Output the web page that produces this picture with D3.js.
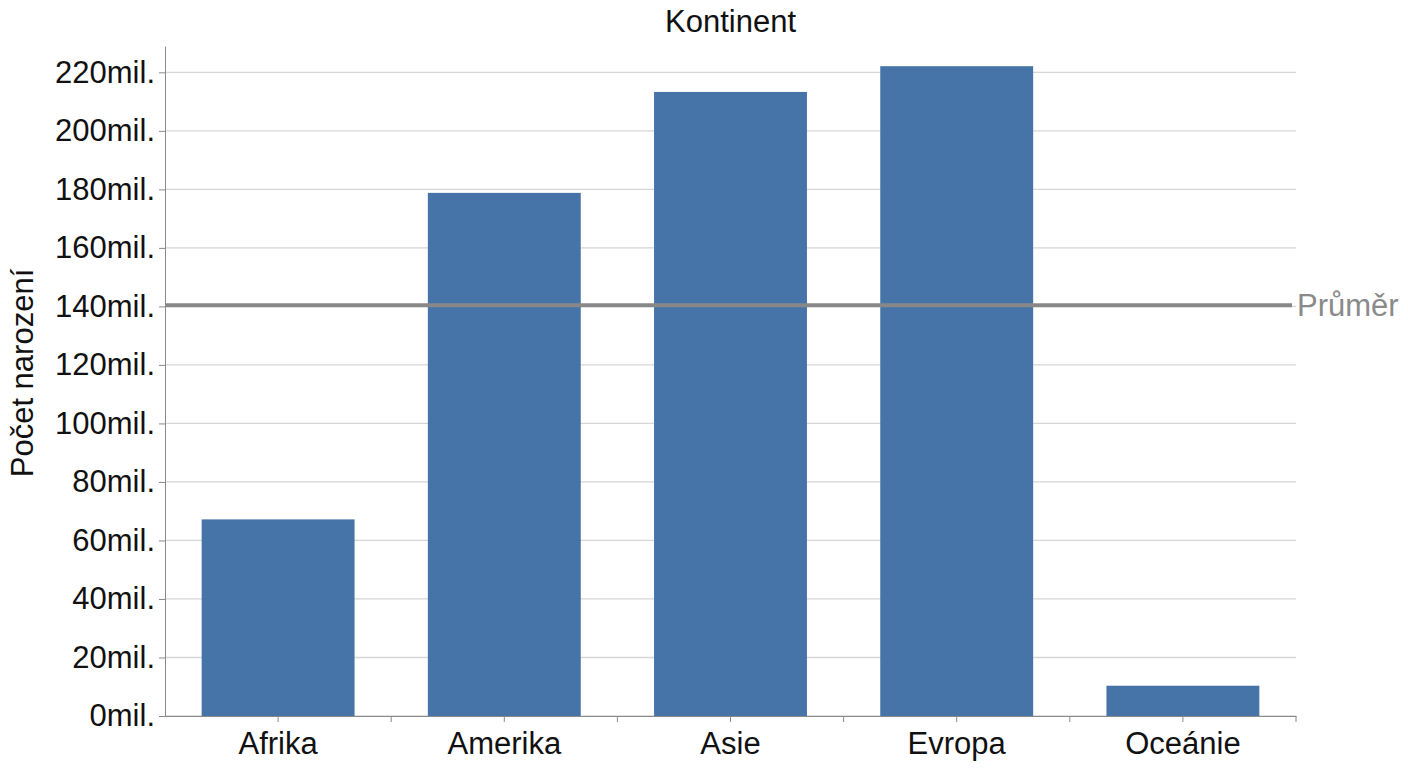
<!DOCTYPE html>
<html><head><meta charset="utf-8">
<script src="https://cdn.jsdelivr.net/npm/d3@7"></script>
<style>
body{margin:0;background:#fff;}
text{font-family:"Liberation Sans",Arial,sans-serif;}
</style></head>
<body><svg id="c" width="1408" height="768"></svg>
<script>
const categories = ["Afrika","Amerika","Asie","Evropa","Oceánie"];
const births = [67.2, 178.8, 213.3, 222.1, 10.35];
const averageValue = 140.4;
const yTicks = [0,20,40,60,80,100,120,140,160,180,200,220];
const titleText = "Kontinent";
const yLabel = "Počet narození";
const avgLabel = "Průměr";

const svg = d3.select("#c");
const L=165, R=1296, T=46, B=716;
const FS = 31;
const x = d3.scaleBand().domain(categories).range([L,R]).paddingInner(0.324).paddingOuter(0.162);
const y = d3.scaleLinear().domain([0,229]).range([B,T]);
const step = x.step();

// gridlines
svg.append("g").selectAll("line").data(yTicks).join("line")
  .attr("x1",L).attr("x2",R).attr("y1",d=>y(d)).attr("y2",d=>y(d))
  .attr("stroke","#d6d6d6").attr("stroke-width",1.3);

// bars
svg.append("g").selectAll("rect").data(categories).join("rect")
  .attr("x",d=>x(d)).attr("width",x.bandwidth())
  .attr("y",(d,i)=>y(births[i])).attr("height",(d,i)=>B-y(births[i]))
  .attr("fill","#4674a9");

// y axis
const ya = svg.append("g").attr("transform",`translate(${L},0)`)
  .call(d3.axisLeft(y).tickValues(yTicks).tickFormat(d=>d+"mil.").tickSize(6).tickPadding(4).tickSizeOuter(0));
ya.select(".domain").attr("stroke","#8a8a8a");
ya.selectAll(".tick line").attr("stroke","#8a8a8a");
ya.selectAll(".tick text").attr("font-size",FS).attr("fill","#111").attr("font-family","Liberation Sans, Arial, sans-serif");

// x axis
const xa = svg.append("g").attr("transform",`translate(0,${B})`)
  .call(d3.axisBottom(x).tickSize(6).tickPadding(10).tickSizeOuter(0));
xa.select(".domain").attr("stroke","#8a8a8a");
xa.selectAll(".tick line").attr("stroke","#8a8a8a");
xa.selectAll(".tick text").attr("font-size",FS).attr("fill","#111").attr("font-family","Liberation Sans, Arial, sans-serif");
const bounds = d3.range(1, categories.length+1).map(i=>L+i*step);
xa.append("g").selectAll("line").data(bounds).join("line")
  .attr("x1",d=>d).attr("x2",d=>d).attr("y1",0).attr("y2",6).attr("stroke","#8a8a8a");

// average line
svg.append("line").attr("x1",L).attr("x2",R-4)
  .attr("y1",y(averageValue)).attr("y2",y(averageValue))
  .attr("stroke","#888").attr("stroke-width",4);
svg.append("text").attr("x",R+1).attr("y",y(averageValue)+11)
  .attr("font-size",FS).attr("fill","#8a8a8a").text(avgLabel);

// title
svg.append("text").attr("x",(L+R)/2).attr("y",32).attr("text-anchor","middle")
  .attr("font-size",FS).attr("fill","#111").text(titleText);
// y label
svg.append("text").attr("transform",`translate(33,${(T+B)/2 - 8}) rotate(-90)`)
  .attr("text-anchor","middle").attr("font-size",FS).attr("fill","#111").text(yLabel);
</script></body></html>
